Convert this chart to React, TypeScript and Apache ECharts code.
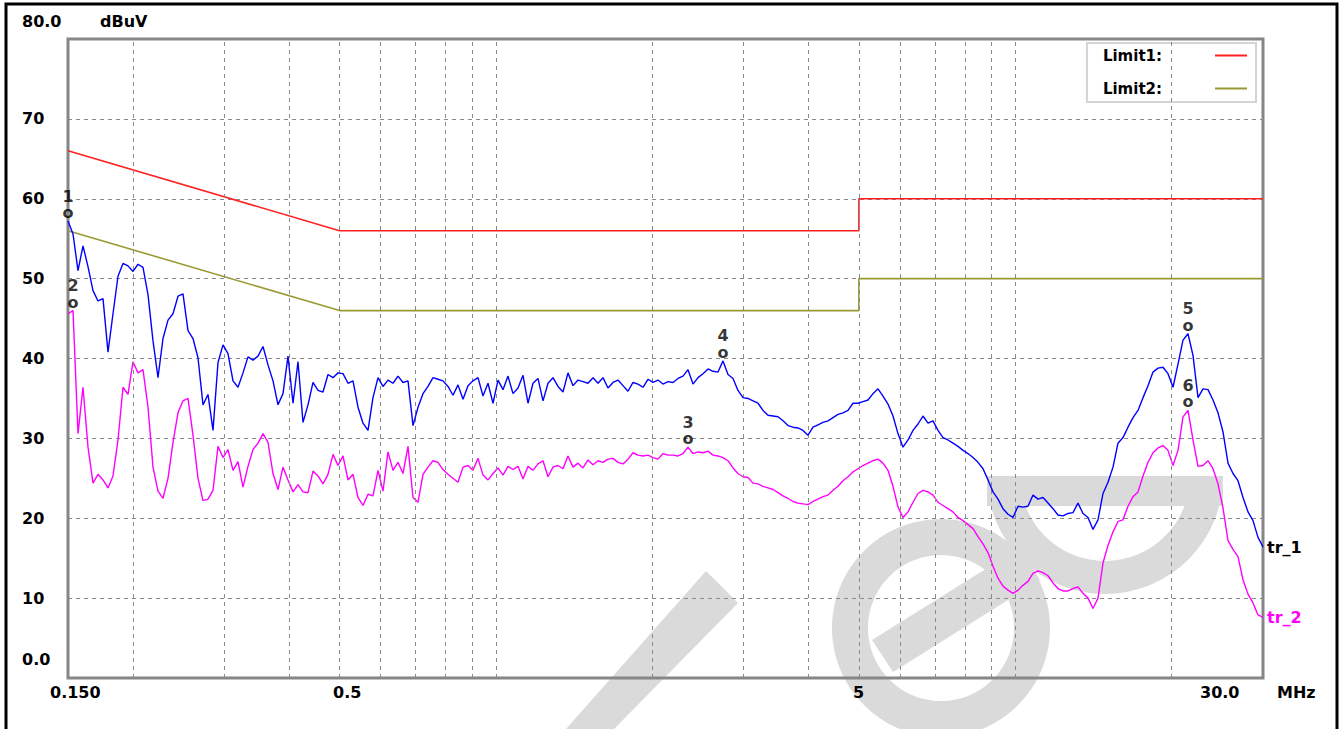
import { useEffect, useRef } from "react";
import * as echarts from "echarts";

// Receiver sweep: log-spaced points from start to stop frequency (MHz)
const SWEEP_START_MHZ = 0.15;
const SWEEP_STOP_MHZ = 30;

// Trace 1 (peak detector), dBuV per sweep point
const TR_1 = [
  57.2, 55.6, 51.0, 54.1, 51.5, 48.5, 47.2, 47.5, 40.8, 45.6,
  50.3, 51.9, 51.6, 50.9, 51.8, 51.4, 48.0, 42.2, 37.6, 42.5,
  44.8, 45.6, 47.8, 48.1, 43.5, 42.5, 40.1, 34.2, 35.5, 31.0,
  39.5, 41.7, 40.6, 37.2, 36.4, 38.2, 40.2, 39.8, 40.3, 41.5,
  39.2, 37.2, 34.2, 35.6, 40.3, 34.4, 39.6, 32.0, 34.2, 37.0,
  36.0, 35.8, 38.0, 37.6, 38.2, 38.1, 36.9, 37.2, 33.9, 31.9,
  31.0, 35.1, 37.6, 36.5, 37.3, 36.9, 37.8, 37.0, 37.2, 31.6,
  33.9, 35.6, 36.5, 37.6, 37.4, 37.2, 36.5, 35.4, 36.7, 34.9,
  36.6, 37.2, 37.6, 35.3, 36.9, 34.4, 37.3, 36.1, 37.8, 35.6,
  36.3, 37.9, 34.4, 36.9, 37.5, 34.7, 36.9, 37.6, 36.5, 35.8,
  38.2, 36.6, 37.3, 37.1, 36.9, 37.6, 36.9, 37.6, 36.3, 37.0,
  37.3, 36.6, 35.9, 37.0, 36.8, 36.4, 37.4, 37.0, 37.3, 36.8,
  37.1, 37.0, 37.5, 37.8, 38.6, 36.8, 37.6, 38.1, 38.7, 38.4,
  38.3, 39.7, 38.0, 37.5, 36.0, 35.1, 35.0, 34.7, 34.4, 33.5,
  32.9, 32.8, 32.7, 32.2, 31.6, 31.4, 31.3, 31.0, 30.4, 31.4,
  31.7, 32.0, 32.2, 32.6, 33.0, 33.2, 33.5, 34.4, 34.4, 34.6,
  34.8, 35.6, 36.2, 35.3, 34.3, 32.8, 30.6, 28.9, 29.8, 31.0,
  31.8, 32.8, 31.9, 32.2, 31.0, 30.1, 29.8, 29.4, 29.0, 28.5,
  28.1, 27.6, 27.0, 26.2, 24.8, 23.3, 22.4, 21.2, 20.5, 20.1,
  21.5, 21.4, 21.5, 22.9, 22.4, 22.6, 21.9, 21.2, 20.4, 20.3,
  20.6, 20.7, 21.9, 20.6, 20.1, 18.6, 19.8, 23.1, 24.5, 26.4,
  29.4, 30.1, 31.4, 32.6, 33.5, 35.1, 36.6, 38.3, 38.8, 38.9,
  38.1, 36.4, 39.3, 42.3, 43.1, 40.4, 35.1, 36.2, 36.1, 34.8,
  33.2, 30.8, 26.9, 25.6, 24.7, 22.6, 20.8, 19.7, 17.6, 16.4,
];

// Trace 2 (average detector), dBuV per sweep point
const TR_2 = [
  45.6, 46.0, 30.6, 36.4, 28.9, 24.4, 25.5, 24.8, 23.8, 25.3,
  29.8, 36.4, 35.5, 39.6, 38.2, 38.6, 33.9, 26.4, 23.4, 22.5,
  25.0, 29.5, 33.2, 34.7, 35.0, 30.4, 25.0, 22.2, 22.4, 23.5,
  29.0, 27.6, 28.6, 26.0, 27.1, 23.9, 26.5, 28.6, 29.4, 30.6,
  29.5, 25.6, 23.6, 26.4, 24.8, 23.3, 24.2, 23.3, 23.2, 25.9,
  25.3, 24.3, 25.5, 28.0, 26.6, 27.8, 24.8, 25.5, 22.6, 21.6,
  23.0, 22.8, 26.0, 23.4, 28.3, 26.0, 27.0, 25.6, 29.0, 22.6,
  22.0, 25.5, 26.4, 27.2, 27.0, 26.1, 25.5, 25.0, 24.5, 26.4,
  26.6, 26.0, 27.5, 25.4, 24.8, 25.6, 26.3, 25.4, 26.5, 26.1,
  26.5, 24.9, 26.5, 26.0, 26.8, 27.2, 25.2, 26.4, 26.6, 26.2,
  27.8, 26.4, 26.9, 26.3, 27.3, 26.7, 27.2, 27.0, 27.4, 27.5,
  27.0, 26.8, 27.4, 28.2, 27.9, 27.8, 27.9, 27.6, 27.4, 28.1,
  27.9, 27.9, 27.8, 28.1, 28.9, 28.1, 28.3, 28.2, 28.4, 27.9,
  27.8, 27.6, 27.2, 26.3, 25.6, 25.2, 25.1, 24.4, 24.3, 24.0,
  23.8, 23.6, 23.2, 22.8, 22.5, 22.1, 21.9, 21.8, 21.7, 22.1,
  22.4, 22.7, 22.9, 23.5, 24.0, 24.7, 25.2, 25.8, 26.2, 26.6,
  26.9, 27.2, 27.4, 26.9, 26.0, 24.0, 21.4, 20.1, 20.8, 22.0,
  23.1, 23.5, 23.3, 22.9, 22.0, 21.6, 21.2, 20.8, 20.1, 19.7,
  19.2, 18.7, 17.7, 16.8, 15.7, 14.0, 12.5, 11.5, 11.0, 10.6,
  11.0, 11.6, 12.1, 13.1, 13.4, 13.2, 12.8, 11.9, 11.2, 10.9,
  10.9, 11.2, 11.4, 10.6, 10.0, 8.7, 10.0, 14.4, 16.6, 18.3,
  19.6, 19.8, 21.5, 22.7, 23.3, 25.3, 27.0, 28.2, 28.8, 29.1,
  28.5, 26.6, 28.5, 32.7, 33.5, 29.8, 26.5, 26.6, 27.2, 26.2,
  24.3, 21.3, 17.2, 16.1, 15.2, 12.3, 10.5, 9.4, 7.9, 7.6,
];

// Limit lines: [frequency MHz, dBuV]
const LIMIT_1 = [[0.15, 66], [0.5, 56], [5, 56], [5, 60], [30, 60]];
const LIMIT_2 = [[0.15, 56], [0.5, 46], [5, 46], [5, 50], [30, 50]];

// Vertical grid frequencies (MHz)
const GRID_FREQS = [0.2, 0.3, 0.4, 0.5, 0.6, 0.7, 0.8, 0.9, 1, 2, 3, 4, 5, 6, 7, 8, 9, 10, 20];

// Markers: label, trace, sweep point index
const MARKER_IDS = ["1", "2", "3", "4", "5", "6"];
const MARKER_TRACES = ["tr_1", "tr_2", "tr_2", "tr_1", "tr_1", "tr_2"];
const MARKER_POINTS = [0, 1, 124, 131, 224, 224];

// Axis texts
const Y_MIN = 0;
const Y_MAX = 80;
const Y_STEP = 10;
const Y_TOP_LABEL = "80.0";
const Y_BOTTOM_LABEL = "0.0";
const Y_UNIT = "dBuV";
const X_LABELS = ["0.150", "0.5", "5", "30.0"];
const X_UNIT = "MHz";

const FONT = "DejaVu Sans";
const BLUE = "#0000ff";
const MAGENTA = "#ff00ff";
const RED = "#ff2020";
const OLIVE = "#999933";
const GRID_GRAY = "#8a8a8a";
const WATERMARK = "#dadada";

function sweepFreq(i: number, n: number): number {
  return SWEEP_START_MHZ * Math.pow(SWEEP_STOP_MHZ / SWEEP_START_MHZ, i / (n - 1));
}

function traceData(values: number[]): number[][] {
  return values.map((v, i) => [sweepFreq(i, values.length), v]);
}

export default function App() {
  const ref = useRef<HTMLDivElement>(null);

  useEffect(() => {
    if (!ref.current) return;
    const chart = echarts.init(ref.current, undefined, { renderer: "svg" });

    const traces: Record<string, number[]> = { tr_1: TR_1, tr_2: TR_2 };
    const markerData = MARKER_IDS.map((id, k) => {
      const values = traces[MARKER_TRACES[k]];
      const idx = MARKER_POINTS[k];
      return [sweepFreq(idx, values.length), values[idx], id];
    });

    const boldText = (text: string, x: number, y: number, fill = "#000") => ({
      type: "text",
      x,
      y,
      silent: true,
      style: {
        text,
        fill,
        font: `bold 16px "${FONT}"`,
        verticalAlign: "middle",
        align: "left",
      },
    });

    // Light grey logo watermark behind the plot
    const mark = { fill: WATERMARK };
    const watermark = [
      {
        type: "polygon",
        z: -1,
        silent: true,
        shape: { points: [[566, 729], [614, 729], [738, 603], [706, 571]] },
        style: mark,
      },
      {
        type: "ring",
        z: -1,
        silent: true,
        shape: { cx: 941, cy: 628, r: 109, r0: 73 },
        style: mark,
      },
      {
        type: "polygon",
        z: -1,
        silent: true,
        shape: { points: [[872, 640], [893, 672], [1040, 580], [1019, 548]] },
        style: mark,
      },
      {
        type: "sector",
        z: -1,
        silent: true,
        shape: { cx: 1105, cy: 476, r: 118, r0: 85, startAngle: 0, endAngle: Math.PI },
        style: mark,
      },
      {
        type: "rect",
        z: -1,
        silent: true,
        shape: { x: 987, y: 476, width: 236, height: 30, r: [0, 12, 0, 0] },
        style: mark,
      },
    ];

    chart.setOption({
      animation: false,
      backgroundColor: "#ffffff",
      grid: {
        left: 68,
        top: 39,
        width: 1195,
        height: 639,
        show: true,
        borderColor: "#868686",
        borderWidth: 3,
        backgroundColor: "transparent",
      },
      xAxis: {
        type: "log",
        logBase: 10,
        min: SWEEP_START_MHZ,
        max: SWEEP_STOP_MHZ,
        axisLine: { show: false },
        axisTick: { show: false },
        axisLabel: { show: false },
        splitLine: { show: false },
      },
      yAxis: {
        type: "value",
        min: Y_MIN,
        max: Y_MAX,
        interval: Y_STEP,
        axisLine: { show: false },
        axisTick: { show: false },
        splitLine: { show: true, lineStyle: { color: GRID_GRAY, type: [4, 4], width: 1 } },
        axisLabel: {
          formatter: (v: number) => (v === Y_MIN || v === Y_MAX ? "" : String(v)),
          align: "left",
          margin: 46,
          fontFamily: FONT,
          fontWeight: "bold",
          fontSize: 16,
          color: "#000",
        },
      },
      legend: {
        data: ["Limit1", "Limit2"],
        orient: "vertical",
        right: 88,
        top: 43,
        align: "right",
        icon: "rect",
        itemWidth: 32,
        itemHeight: 2,
        itemGap: 18,
        padding: [5, 9, 6, 16],
        borderColor: "#d4d4d4",
        borderWidth: 2,
        backgroundColor: "#ffffff",
        selectedMode: false,
        formatter: (name: string) => `${name}:`,
        textStyle: {
          fontFamily: FONT,
          fontWeight: "bold",
          fontSize: 15,
          color: "#000",
          padding: [0, 48, 0, 0],
        },
      },
      graphic: [
        ...watermark,
        {
          type: "rect",
          silent: true,
          shape: { x: 6, y: 4, width: 1331, height: 800 },
          style: { fill: "none", stroke: "#000", lineWidth: 3 },
        },
        boldText(Y_TOP_LABEL, 22, 21),
        boldText(Y_UNIT, 100, 21),
        boldText(Y_BOTTOM_LABEL, 22, 659),
        boldText(X_LABELS[0], 50, 692),
        boldText(X_LABELS[1], 333, 692),
        boldText(X_LABELS[2], 853, 692),
        boldText(X_LABELS[3], 1200, 692),
        boldText(X_UNIT, 1277, 692),
      ],
      series: [
        {
          name: "grid",
          type: "line",
          data: [],
          silent: true,
          z: 1,
          markLine: {
            silent: true,
            symbol: ["none", "none"],
            label: { show: false },
            lineStyle: { color: GRID_GRAY, type: [4, 4], width: 1 },
            data: GRID_FREQS.map((f) => ({ xAxis: f })),
          },
        },
        {
          name: "Limit1",
          type: "line",
          data: LIMIT_1,
          color: RED,
          showSymbol: false,
          lineStyle: { color: RED, width: 1.6 },
          z: 3,
        },
        {
          name: "Limit2",
          type: "line",
          data: LIMIT_2,
          color: OLIVE,
          showSymbol: false,
          lineStyle: { color: OLIVE, width: 1.6 },
          z: 3,
        },
        {
          name: "tr_2",
          type: "line",
          data: traceData(TR_2),
          showSymbol: false,
          color: MAGENTA,
          lineStyle: { color: MAGENTA, width: 1.4 },
          z: 4,
          endLabel: {
            show: true,
            formatter: "tr_2",
            color: MAGENTA,
            fontFamily: FONT,
            fontWeight: "bold",
            fontSize: 16,
            distance: 4,
          },
        },
        {
          name: "tr_1",
          type: "line",
          data: traceData(TR_1),
          showSymbol: false,
          color: BLUE,
          lineStyle: { color: BLUE, width: 1.4 },
          z: 5,
          endLabel: {
            show: true,
            formatter: "tr_1",
            color: "#000",
            fontFamily: FONT,
            fontWeight: "bold",
            fontSize: 16,
            distance: 4,
          },
        },
        {
          name: "markers",
          type: "scatter",
          data: markerData,
          symbol: "circle",
          symbolSize: 1,
          itemStyle: { color: "transparent" },
          silent: true,
          z: 6,
          label: {
            show: true,
            position: "top",
            distance: 0,
            formatter: (p: any) => `{n|${p.data[2]}}\n{o|o}`,
            rich: {
              n: { fontFamily: FONT, fontWeight: "bold", fontSize: 16, lineHeight: 17, color: "#000" },
              o: { fontFamily: FONT, fontWeight: "bold", fontSize: 16, lineHeight: 16, color: "#000" },
            },
          },
        },
      ],
    });

    return () => chart.dispose();
  }, []);

  return (
    <div
      ref={ref}
      style={{ position: "absolute", left: 0, top: 0, width: 1344, height: 729 }}
    />
  );
}
